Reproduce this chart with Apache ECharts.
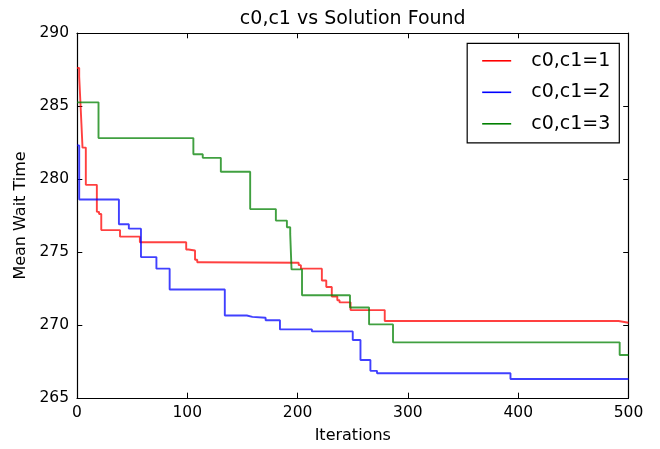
<!DOCTYPE html>
<html>
<head>
<meta charset="utf-8">
<script src="https://cdn.jsdelivr.net/npm/echarts@6/dist/echarts.min.js"></script>
<style>
    html, body { margin: 0; padding: 0; background: #fff; }
    #chartbox { width: 660px; height: 449px; }
</style>
</head>
<body>
<div id="chartbox"></div>
<script>
// step change points (iteration, mean wait time)
var redX = [0, 2, 3, 4, 5, 8, 18, 20, 22, 39, 57, 99, 101, 107, 109, 112, 201, 203, 222, 226, 231, 236, 238, 248, 279, 491, 500];
var redY = [287.6, 287.0, 285.4, 283.8, 282.15, 279.6, 277.75, 277.6, 276.5, 276.05, 275.67, 275.17, 275.1, 274.47, 274.3, 274.26, 274.1, 273.86, 273.05, 272.6, 271.95, 271.7, 271.55, 271.02, 270.27, 270.15, 270.15];

var blueX = [0, 2, 38, 47, 58, 72, 84, 134, 154, 159, 171, 184, 213, 250, 257, 266, 272, 393, 500];
var blueY = [282.3, 278.6, 276.9, 276.6, 274.65, 273.86, 272.43, 270.65, 270.56, 270.5, 270.33, 269.7, 269.56, 268.97, 267.6, 266.86, 266.7, 266.3, 266.3];

var greenX = [0, 19.5, 105.5, 114, 130.4, 157, 180.3, 190.3, 193.3, 194.5, 204, 247.5, 264.8, 286.5, 492, 500];
var greenY = [285.25, 282.8, 281.7, 281.45, 280.5, 277.94, 277.15, 276.7, 276.24, 273.81, 272.04, 271.2, 270.04, 268.81, 267.95, 267.95];

var seriesNames = ["c0,c1=1", "c0,c1=2", "c0,c1=3"];
var xTicks = { min: 0, max: 500, interval: 100 };
var yTicks = { min: 265, max: 290, interval: 5 };

var pairs = function (xs, ys) {
    return xs.map(function (x, i) { return [x, ys[i]]; });
};

var myChart = echarts.init(document.getElementById("chartbox"));

var fontFam = "DejaVu Sans";
var tickStyle = { show: true, inside: true, length: 5.3, lineStyle: { color: "#000", width: 1 } };
var lineAxis = { show: true, onZero: false, lineStyle: { color: "#000", width: 1.2 } };

var mkSeries = function (name, data, color) {
    return {
        name: name,
        type: "line",
        step: "end",
        showSymbol: false,
        symbol: "none",
        color: color,
        lineStyle: { width: 1.9, color: color, opacity: 0.75 },
        emphasis: { disabled: true },
        data: data,
    };
};

var option = {
    backgroundColor: "#fff",
    animation: false,
    title: {
        text: "c0,c1 vs Solution Found",
        left: 352.75,
        textAlign: "center",
        top: 9.5,
        padding: 0,
        textStyle: { fontFamily: fontFam, fontSize: 19, fontWeight: "normal", color: "#000" },
    },
    legend: {
        orient: "vertical",
        right: 40.7,
        top: 43.3,
        padding: [8, 9, 9.5, 15],
        icon: "rect",
        itemWidth: 29,
        itemHeight: 1.6,
        itemGap: 12.5,
        selectedMode: false,
        backgroundColor: "#fff",
        borderColor: "#000",
        borderWidth: 1.2,
        textStyle: { fontFamily: fontFam, fontSize: 19, color: "#000", padding: [0, 0, 0, 15] },
        data: seriesNames,
    },
    grid: {
        left: 77,
        right: 31.5,
        top: 33,
        bottom: 49,
    },
    xAxis: [
        {
            type: "value",
            min: xTicks.min,
            max: xTicks.max,
            interval: xTicks.interval,
            position: "bottom",
            name: "Iterations",
            nameLocation: "middle",
            nameGap: 30,
            nameTextStyle: { fontFamily: fontFam, fontSize: 16, color: "#000" },
            axisLine: lineAxis,
            axisTick: tickStyle,
            axisLabel: { margin: 7, fontFamily: fontFam, fontSize: 15.5, color: "#000" },
            splitLine: { show: false },
        },
        {
            type: "value",
            min: xTicks.min,
            max: xTicks.max,
            interval: xTicks.interval,
            position: "top",
            axisLine: lineAxis,
            axisTick: tickStyle,
            axisLabel: { show: false },
            splitLine: { show: false },
        },
    ],
    yAxis: [
        {
            type: "value",
            min: yTicks.min,
            max: yTicks.max,
            interval: yTicks.interval,
            position: "left",
            name: "Mean Wait Time",
            nameLocation: "middle",
            nameRotate: 90,
            nameGap: 48,
            nameTextStyle: { fontFamily: fontFam, fontSize: 16, color: "#000" },
            axisLine: lineAxis,
            axisTick: tickStyle,
            axisLabel: { margin: 8, fontFamily: fontFam, fontSize: 15.5, color: "#000" },
            splitLine: { show: false },
        },
        {
            type: "value",
            min: yTicks.min,
            max: yTicks.max,
            interval: yTicks.interval,
            position: "right",
            axisLine: lineAxis,
            axisTick: tickStyle,
            axisLabel: { show: false },
            splitLine: { show: false },
        },
    ],
    series: [
        mkSeries(seriesNames[0], pairs(redX, redY), "#ff0000"),
        mkSeries(seriesNames[1], pairs(blueX, blueY), "#0000ff"),
        mkSeries(seriesNames[2], pairs(greenX, greenY), "#008000"),
    ],
};
option && myChart.setOption(option);
</script>
</body>
</html>
